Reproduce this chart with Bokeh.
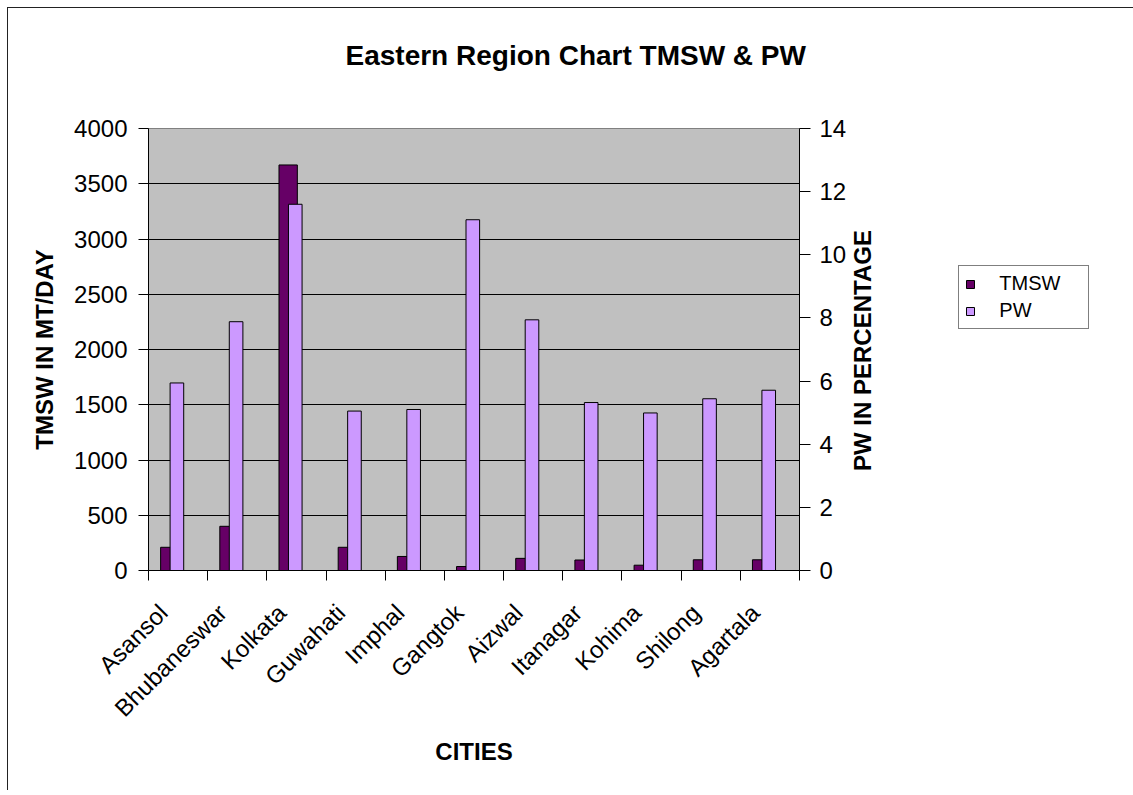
import math
import numpy as np
from bokeh.plotting import figure
from bokeh.models import Range1d, LinearAxis, FixedTicker, Legend, LegendItem, ColumnDataSource, Title
from bokeh.embed import file_html
from bokeh.resources import INLINE

# ---- data ----
cities = ["Asansol", "Bhubaneswar", "Kolkata", "Guwahati", "Imphal", "Gangtok",
          "Aizwal", "Itanagar", "Kohima", "Shilong", "Agartala"]
tmsw = [210, 400, 3670, 210, 127, 36, 110, 95, 48, 97, 97]
pw = [5.94, 7.88, 11.60, 5.05, 5.10, 11.11, 7.94, 5.32, 4.99, 5.44, 5.71]
left_ticks = [0, 500, 1000, 1500, 2000, 2500, 3000, 3500, 4000]
right_ticks = [0, 2, 4, 6, 8, 10, 12, 14]
right_title = "PW IN PERCENTAGE"

FONT = "Liberation Sans"
n = len(cities)
centers = [i + 0.5 for i in range(n)]
label_pos = [c - 0.25 for c in centers]
src = ColumnDataSource(dict(
    xt=[c - 0.14 for c in centers],
    xp=[c - 0.02 for c in centers],
    tmsw=tmsw, pw=pw))

p = figure(frame_width=651, frame_height=442,
           x_range=Range1d(0, n), y_range=Range1d(left_ticks[0], left_ticks[-1]),
           output_backend="svg", toolbar_location=None,
           min_border_left=140, min_border_top=120, min_border_right=329, min_border_bottom=220,
           background_fill_color="#C0C0C0", border_fill_color="white",
           outline_line_color="#808080")
p.styles = {"border-left": "1px solid #222222", "border-top": "1px solid #222222",
            "margin-left": "7px", "margin-top": "7px"}

p.extra_y_ranges = {"pw": Range1d(right_ticks[0], right_ticks[-1])}

r1 = p.vbar(x="xt", top="tmsw", width=0.31, source=src, fill_color="#660066",
            line_color="black", line_width=1)
r2 = p.vbar(x="xp", top="pw", width=0.23, source=src, fill_color="#CC99FF",
            line_color="black", line_width=1, y_range_name="pw")

# grid
p.xgrid.visible = False
p.ygrid.ticker = FixedTicker(ticks=left_ticks)
p.ygrid.grid_line_color = "black"
p.ygrid.grid_line_width = 1

# x axis
xa = p.xaxis[0]
xa.ticker = FixedTicker(ticks=label_pos, minor_ticks=list(range(n + 1)))
xa.major_label_overrides = {c: name for c, name in zip(label_pos, cities)}
xa.major_tick_out = 0
xa.major_tick_in = 0
xa.major_tick_line_color = None
xa.minor_tick_out = 10
xa.minor_tick_in = 0
xa.minor_tick_line_color = "black"
xa.axis_line_color = "black"
xa.major_label_orientation = math.pi / 4
xa.major_label_standoff = 28
xa.major_label_text_font = FONT
xa.major_label_text_font_size = "24px"
xa.major_label_text_color = "black"
xa.axis_label = "CITIES"
xa.axis_label_text_font = FONT
xa.axis_label_text_font_size = "24px"
xa.axis_label_text_font_style = "bold"
xa.axis_label_text_color = "black"
xa.axis_label_standoff = 4

# left axis
ya = p.yaxis[0]
ya.ticker = FixedTicker(ticks=left_ticks)
ya.major_tick_out = 10
ya.major_tick_in = 0
ya.major_tick_line_color = "black"
ya.axis_line_color = "black"
ya.major_label_standoff = 11
ya.major_label_text_font = FONT
ya.major_label_text_font_size = "24px"
ya.major_label_text_color = "black"
ya.axis_label = "TMSW IN MT/DAY"
ya.axis_label_text_font = FONT
ya.axis_label_text_font_size = "24px"
ya.axis_label_text_font_style = "bold"
ya.axis_label_text_color = "black"
ya.axis_label_standoff = 13

# right axis (ticks and numbers)
ra = LinearAxis(y_range_name="pw", ticker=FixedTicker(ticks=right_ticks))
ra.major_tick_out = 11
ra.major_tick_in = 0
ra.major_tick_line_color = "black"
ra.axis_line_color = "black"
ra.major_label_standoff = 9
ra.major_label_text_font = FONT
ra.major_label_text_font_size = "24px"
ra.major_label_text_color = "black"
p.add_layout(ra, "right")

# right axis title, drawn bottom-to-top (start anchored so the text is centred)
title_len_px = 243
title_anchor = (right_ticks[-1] - right_ticks[0]) * (0.5 - title_len_px / 2 / 442)
rt = LinearAxis(y_range_name="pw", ticker=FixedTicker(ticks=[title_anchor]))
rt.major_label_overrides = {title_anchor: right_title}
rt.major_label_orientation = math.pi / 2
rt.major_tick_out = 0
rt.major_tick_in = 0
rt.major_tick_line_color = None
rt.axis_line_color = None
rt.major_label_standoff = 13
rt.major_label_text_font = FONT
rt.major_label_text_font_size = "24px"
rt.major_label_text_font_style = "bold"
rt.major_label_text_color = "black"
p.add_layout(rt, "right")

# title (spacer between frame and title)
spacer = Title(text=" ", text_font=FONT, text_font_size="24px", standoff=24)
p.add_layout(spacer, "above")
ttl = Title(text="Eastern Region Chart TMSW & PW", align="left", offset=197,
            text_font=FONT, text_font_size="28px", text_font_style="bold",
            text_color="black", standoff=10)
p.add_layout(ttl, "above")

# legend
leg = Legend(items=[LegendItem(label="TMSW", renderers=[r1]),
                    LegendItem(label="PW", renderers=[r2])],
             location=(-261, 241), orientation="vertical",
             padding=6, spacing=4, label_height=18, label_width=83,
             glyph_width=10, glyph_height=10, label_standoff=24,
             label_text_font=FONT, label_text_font_size="20px", label_text_color="black",
             border_line_color="black", border_line_width=1,
             background_fill_color="white", background_fill_alpha=1.0,
             margin=0)
p.add_layout(leg, "right")

open("out.html", "w").write(file_html(p, INLINE))
